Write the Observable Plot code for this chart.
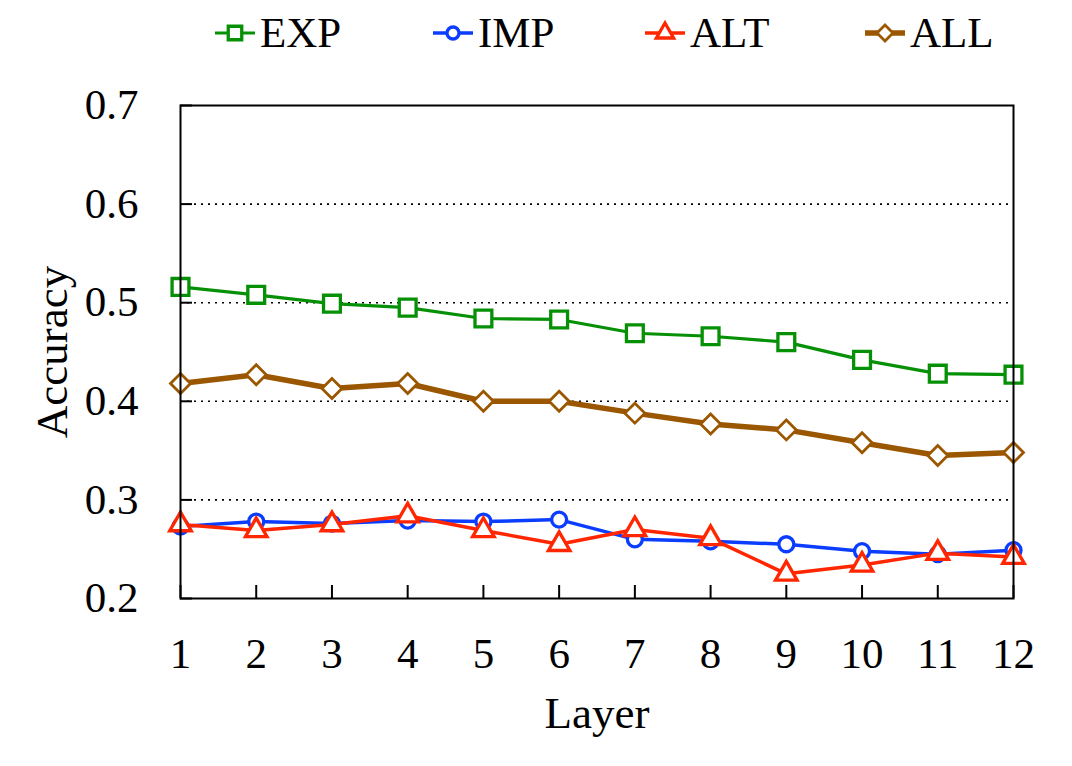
<!DOCTYPE html>
<html><head><meta charset="utf-8">
<script src="https://cdn.jsdelivr.net/npm/d3@7"></script>
<script src="https://cdn.jsdelivr.net/npm/@observablehq/plot@0.6"></script>
<style>
body{margin:0;background:#fff;font-family:'Liberation Serif','Times New Roman',serif;}
#legend{position:relative;width:1072px;height:70px;}
.item{position:absolute;top:9px;height:48px;display:flex;align-items:center;font-size:43px;line-height:48px;color:#000;}
.item svg{display:block;margin-right:5px;}
</style></head><body>
<div id="legend"></div>
<div id="chart"></div>
<script>
// ---- data ----
const layers = [1,2,3,4,5,6,7,8,9,10,11,12];
const expAcc = [0.516,0.508,0.499,0.495,0.484,0.483,0.469,0.466,0.460,0.442,0.428,0.427];
const impAcc = [0.273,0.278,0.276,0.279,0.278,0.280,0.260,0.258,0.255,0.248,0.245,0.249];
const altAcc = [0.275,0.269,0.275,0.284,0.269,0.255,0.270,0.261,0.225,0.234,0.246,0.242];
const allAcc = [0.418,0.427,0.413,0.418,0.400,0.400,0.388,0.377,0.371,0.358,0.345,0.348];
const seriesNames = ["EXP","IMP","ALT","ALL"];
const yTicks = [0.2,0.3,0.4,0.5,0.6,0.7];
const gridValues = [0.3,0.4,0.5,0.6];
const xLabel = "Layer";
const yLabel = "Accuracy";

// ---- styles ----
const styles = {
  EXP: {values: expAcc, color: "#069006", symbol: "square",   r: 9.5, lineWidth: 3.2, dotWidth: 3.3},
  IMP: {values: impAcc, color: "#0a3dff", symbol: "circle",   r: 7.5, lineWidth: 3.5, dotWidth: 3.3},
  ALT: {values: altAcc, color: "#ff2600", symbol: "triangle", r: 8,   lineWidth: 3.5, dotWidth: 3.3},
  ALL: {values: allAcc, color: "#9b5600", symbol: "diamond2", r: 9,   lineWidth: 5.5, dotWidth: 2.8}
};

const marks = [];
marks.push(Plot.ruleY(gridValues, {stroke: "#000", strokeWidth: 1.6, strokeDasharray: "2,5"}));
for (const name of seriesNames) {
  const s = styles[name];
  const rows = layers.map((l, i) => ({layer: l, acc: s.values[i], series: name}));
  marks.push(Plot.line(rows, {x: "layer", y: "acc", stroke: s.color, strokeWidth: s.lineWidth}));
  marks.push(Plot.dot(rows, {x: "layer", y: "acc", symbol: s.symbol, r: s.r, stroke: s.color, fill: "white", strokeWidth: s.dotWidth}));
}
marks.push(Plot.frame({stroke: "#000", strokeWidth: 2}));
marks.push(Plot.axisY({ticks: yTicks, tickFormat: ".1f", tickSize: -12, tickPadding: 54, strokeWidth: 2, label: null, fontSize: 43}));
marks.push(Plot.axisX({ticks: layers, tickFormat: d => String(d), tickSize: -13, tickPadding: 52, strokeWidth: 2, label: null, fontSize: 43}));
marks.push(Plot.text([yLabel], {frameAnchor: "left", textAnchor: "middle", dx: -128, rotate: -90, fontSize: 45}));
marks.push(Plot.text([xLabel], {frameAnchor: "bottom", dy: 129, lineAnchor: "bottom", fontSize: 45}));

const chart = Plot.plot({
  width: 1072, height: 696,
  marginLeft: 180, marginRight: 59, marginTop: 35, marginBottom: 168,
  x: {domain: [1, 12]},
  y: {domain: [0.2, 0.7]},
  style: {fontFamily: "'Liberation Serif','Times New Roman',serif", fontSize: "43px", background: "white", color: "#000"},
  marks
});
document.getElementById("chart").appendChild(chart);

// ---- legend ----
const legendLeft = {EXP: 215, IMP: 433, ALT: 645, ALL: 865};
const legend = document.getElementById("legend");
for (const name of seriesNames) {
  const s = styles[name];
  const item = document.createElement("div");
  item.className = "item";
  item.style.left = legendLeft[name] + "px";
  const sym = d3.symbol(
    {square: d3.symbolSquare, circle: d3.symbolCircle, triangle: d3.symbolTriangle, diamond2: d3.symbolDiamond2}[s.symbol],
    Math.PI * 0.8 * s.r * 0.8 * s.r
  )();
  item.innerHTML =
    `<svg width="40" height="30" viewBox="0 0 40 30">
       <line x1="0" x2="40" y1="15" y2="15" stroke="${s.color}" stroke-width="${s.lineWidth}"/>
       <path d="${sym}" transform="translate(20,15)" fill="white" stroke="${s.color}" stroke-width="${s.dotWidth}"/>
     </svg><span>${name}</span>`;
  legend.appendChild(item);
}
</script>
</body></html>
